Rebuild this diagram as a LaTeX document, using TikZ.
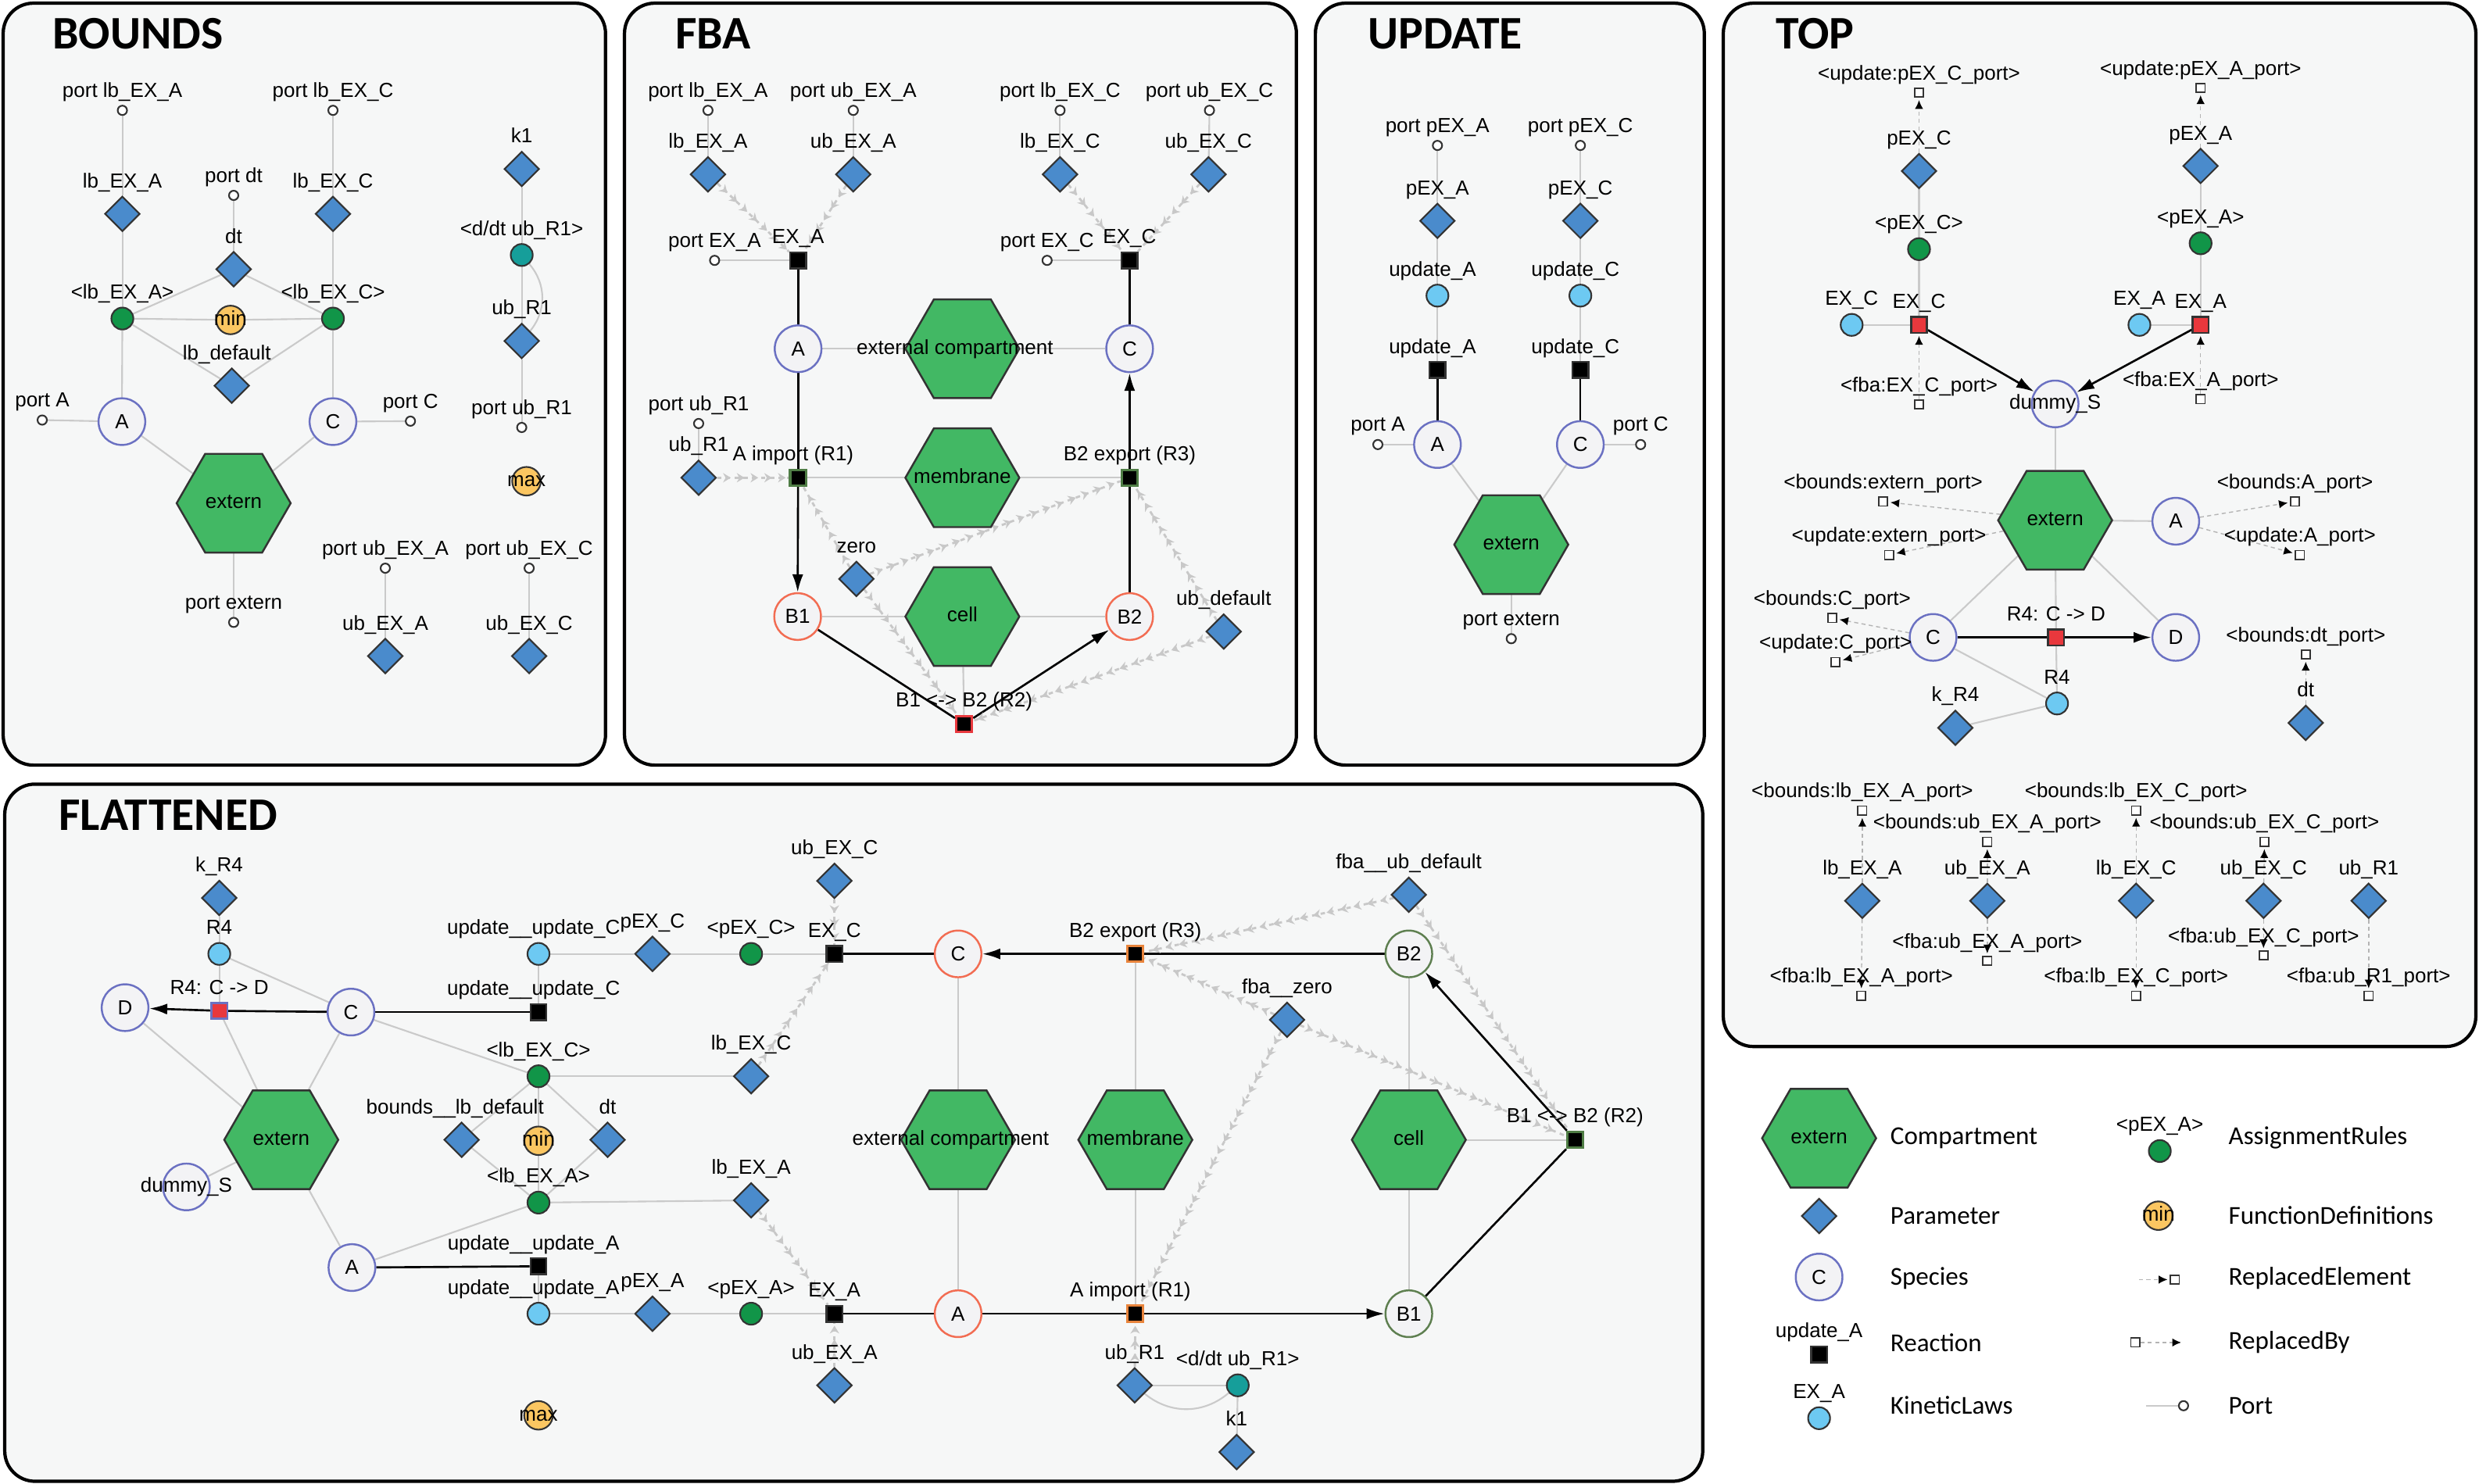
\documentclass[tikz,border=0pt]{standalone}
\usepackage{fontspec}
\setmainfont{Liberation Sans}
\newfontfamily\legfam{Carlito}
\usetikzlibrary{shapes.geometric,arrows.meta,decorations.markings}
\definecolor{panelbg}{HTML}{F6F7F7}
\definecolor{compgreen}{HTML}{42B864}
\definecolor{parblue}{HTML}{4A8BCC}
\definecolor{specfill}{HTML}{F3F3F5}
\definecolor{specblue}{HTML}{6B71C2}
\definecolor{specred}{HTML}{F26C52}
\definecolor{specgrn}{HTML}{5E7F50}
\definecolor{asgngreen}{HTML}{119548}
\definecolor{rateteal}{HTML}{169E9A}
\definecolor{kinblue}{HTML}{6DC9F2}
\definecolor{funcyel}{HTML}{FBC661}
\definecolor{rxnred}{HTML}{E8383D}
\definecolor{rxnorange}{HTML}{E8843C}
\definecolor{rxngreen}{HTML}{4F7D45}
\definecolor{darkline}{HTML}{333333}
\definecolor{linegray}{HTML}{CACACA}
\definecolor{chevgray}{HTML}{C8C8C8}
\definecolor{replgray}{HTML}{B4B4B4}
\newcommand{\lblf}{\fontsize{7.4pt}{8pt}\selectfont}
\newcommand{\legf}{\legfam\fontsize{9.4pt}{11pt}\selectfont}
\newcommand{\titf}{\legfam\bfseries\fontsize{17pt}{20pt}\selectfont}
\pgfdeclarelayer{back}
\pgfsetlayers{back,main}
\tikzset{
  lbl/.style={font=\lblf,inner sep=0pt,text height=5.5pt,text depth=1.6pt},
  lab/.style={label={[lbl]above:#1}},
  labl/.style={label={[lbl,xshift=-1.8pt]above:#1}},
  mid/.style={label={[lbl]center:#1}},
  midl/.style={label={[lbl,xshift=-2.7pt]center:#1}},
  comp/.style={regular polygon,regular polygon sides=6,minimum size=41.5pt,inner sep=0pt,draw=darkline,line width=0.7pt,fill=compgreen},
  param/.style={diamond,minimum width=12.8pt,minimum height=12.8pt,inner sep=0pt,draw=darkline,line width=0.6pt,fill=parblue},
  spec/.style={circle,minimum size=17pt,inner sep=0pt,draw=specblue,line width=0.7pt,fill=specfill,font=\lblf},
  specr/.style={spec,draw=specred},
  specg/.style={spec,draw=specgrn},
  asgn/.style={circle,minimum size=8pt,inner sep=0pt,draw=darkline,line width=0.6pt,fill=asgngreen},
  rate/.style={asgn,fill=rateteal},
  kin/.style={asgn,fill=kinblue},
  func/.style={asgn,minimum size=10.4pt,fill=funcyel},
  rxn/.style={rectangle,minimum size=5.8pt,inner sep=0pt,draw=darkline,line width=0.7pt,fill=black},
  rxnr/.style={rxn,fill=rxnred},
  rxno/.style={rxn,draw=rxnorange,line width=0.9pt},
  rxng/.style={rxn,draw=rxngreen,line width=0.9pt},
  rxnrb/.style={rxn,draw=rxnred,line width=0.9pt},
  port/.style={circle,minimum size=3.4pt,inner sep=0pt,draw=darkline,line width=0.6pt,fill=white},
  rport/.style={rectangle,minimum size=3.2pt,inner sep=0pt,draw=darkline,line width=0.5pt,fill=white},
  gline/.style={draw=linegray,line width=0.6pt},
  rline/.style={draw=black,line width=0.75pt},
  rarr/.style={rline,-{Latex[length=6.5pt,width=4pt]}},
  bnd/.style={color=chevgray,line width=0.8pt,dash pattern=on 1.6pt off 1.6pt,postaction={decorate},
    decoration={markings,mark=between positions 0 and 1 step 5pt with {\arrow{Stealth[length=2.8pt,width=3.4pt]}}}},
  repl/.style={draw=replgray,line width=0.4pt,dash pattern=on 1.5pt off 1.2pt,shorten >=0.8pt,-{Latex[length=3.2pt,width=3pt,color=black]}},
  title/.style={font=\titf,anchor=base west,inner sep=0pt},
  legtxt/.style={font=\legf,anchor=west,inner sep=0pt},
  panel/.style={draw=black,line width=1.2pt,fill=panelbg,rounded corners=11pt}
}
\begin{document}
\begin{tikzpicture}[x=0.2023mm,y=-0.2023mm,label distance=1pt]
\useasboundingbox (0,0) rectangle (1568,938.7);
\begin{pgfonlayer}{back}
\draw[panel] (2,2) rectangle (383,484);
\draw[panel] (395,2) rectangle (820,484);
\draw[panel] (832,2) rectangle (1078,484);
\draw[panel] (1090,2) rectangle (1566,662);
\draw[panel] (3,496) rectangle (1077,937);
\end{pgfonlayer}
\node[title] at (33,31) {BOUNDS};
\node[title] at (427,31) {FBA};
\node[title] at (865,31) {UPDATE};
\node[title] at (1123,31) {TOP};
\node[title] at (37,525) {FLATTENED};

\node[port,lab={port lb\_EX\_A}] (b_plbA) at (77.4,69.8) {};
\node[port,lab={port lb\_EX\_C}] (b_plbC) at (210.6,69.8) {};
\node[param,lab={lb\_EX\_A}] (b_lbA) at (77.4,135.3) {};
\node[param,lab={lb\_EX\_C}] (b_lbC) at (210.6,135.3) {};
\node[port,lab={port dt}] (b_pdt) at (147.8,123.6) {};
\node[param,lab=dt] (b_dt) at (147.8,170.3) {};
\node[asgn,lab={<lb\_EX\_A>}] (b_alA) at (77.4,201.5) {};
\node[asgn,lab={<lb\_EX\_C>}] (b_alC) at (210.6,201.5) {};
\node[func,mid=min] (b_min) at (145.8,202.4) {};
\node[param,labl={lb\_default}] (b_lbd) at (146.6,244) {};
\node[spec] (b_A) at (77.1,266.7) {A};
\node[spec] (b_C) at (210.6,266.7) {C};
\node[port,lab={port A}] (b_pA) at (26.7,265.7) {};
\node[port,lab={port C}] (b_pC) at (259.6,266.4) {};
\node[comp,mid=extern] (b_ext) at (147.8,318.3) {};
\node[port,lab={port extern}] (b_pext) at (147.8,393.7) {};
\node[param,lab=k1] (b_k1) at (330,106.9) {};
\node[rate,lab={<d/dt ub\_R1>}] (b_rr) at (330,161.3) {};
\node[param,lab={ub\_R1}] (b_ubR1) at (330,215.7) {};
\node[port,lab={port ub\_R1}] (b_pubR1) at (330,270.4) {};
\node[func,mid=max] (b_max) at (333,304.4) {};
\node[port,lab={port ub\_EX\_A}] (b_pubA) at (243.7,359.4) {};
\node[port,lab={port ub\_EX\_C}] (b_pubC) at (334.7,359.4) {};
\node[param,lab={ub\_EX\_A}] (b_ubA) at (243.7,415) {};
\node[param,lab={ub\_EX\_C}] (b_ubC) at (334.7,415) {};

\node[port,lab={port lb\_EX\_A}] (f_plbA) at (447.8,69.8) {};
\node[port,lab={port ub\_EX\_A}] (f_pubA) at (539.7,69.8) {};
\node[port,lab={port lb\_EX\_C}] (f_plbC) at (670.5,69.8) {};
\node[port,lab={port ub\_EX\_C}] (f_pubC) at (765,69.8) {};
\node[param,lab={lb\_EX\_A}] (f_lbA) at (447.8,110.3) {};
\node[param,lab={ub\_EX\_A}] (f_ubA) at (539.7,110.3) {};
\node[param,lab={lb\_EX\_C}] (f_lbC) at (670.5,110.3) {};
\node[param,lab={ub\_EX\_C}] (f_ubC) at (764.4,110.3) {};
\node[port,lab={port EX\_A}] (f_pexA) at (452,164.7) {};
\node[rxn,lab={EX\_A}] (f_exA) at (504.8,164.7) {};
\node[port,lab={port EX\_C}] (f_pexC) at (662.3,164.7) {};
\node[rxn,lab={EX\_C}] (f_exC) at (714.5,164.7) {};
\node[spec] (f_A) at (504.8,220.6) {A};
\node[spec] (f_C) at (714.5,220.6) {C};
\node[comp,midl={external compartment}] (f_extc) at (608.7,220.6) {};
\node[port,lab={port ub\_R1}] (f_pubR1) at (441.9,267.9) {};
\node[param,lab={ub\_R1}] (f_ubR1) at (441.9,302.2) {};
\node[rxng,labl={A import (R1)}] (f_r1) at (504.8,302.2) {};
\node[comp,mid=membrane] (f_mem) at (608.7,302.2) {};
\node[rxng,lab={B2 export (R3)}] (f_r3) at (714.5,302.2) {};
\node[param,lab=zero] (f_zero) at (541.7,366.2) {};
\node[specr] (f_B1) at (504.5,390) {B1};
\node[comp,mid=cell] (f_cell) at (608.7,390) {};
\node[specr] (f_B2) at (714.5,390) {B2};
\node[param,lab={ub\_default}] (f_ubd) at (774,399.5) {};
\node[rxnrb,lab={B1 <-> B2 (R2)}] (f_r2) at (609.8,458) {};

\node[port,lab={port pEX\_A}] (u_ppA) at (909.2,92) {};
\node[port,lab={port pEX\_C}] (u_ppC) at (999.6,92) {};
\node[param,lab={pEX\_A}] (u_pA) at (909.2,139.7) {};
\node[param,lab={pEX\_C}] (u_pC) at (999.6,139.7) {};
\node[kin,labl={update\_A}] (u_klA) at (909.2,187) {};
\node[kin,labl={update\_C}] (u_klC) at (999.6,187) {};
\node[rxn,labl={update\_A}] (u_rA) at (909.2,234) {};
\node[rxn,labl={update\_C}] (u_rC) at (999.6,234) {};
\node[spec] (u_A) at (909.2,281.2) {A};
\node[spec] (u_C) at (999.6,281.2) {C};
\node[port,lab={port A}] (u_portA) at (871.5,281.2) {};
\node[port,lab={port C}] (u_portC) at (1037.7,281.2) {};
\node[comp,mid=extern] (u_ext) at (955.9,344.5) {};
\node[port,lab={port extern}] (u_pext) at (955.9,404) {};

\node[rport,lab={<update:pEX\_C\_port>}] (t_upC) at (1213.8,58.7) {};
\node[param,lab={pEX\_C}] (t_pC) at (1213.8,108.2) {};
\node[asgn,lab={<pEX\_C>}] (t_apC) at (1213.8,157.6) {};
\node[rxnr,lab={EX\_C}] (t_exC) at (1213.8,205.5) {};
\node[kin,lab={EX\_C}] (t_klC) at (1171.2,205.5) {};
\node[rport,lab={<fba:EX\_C\_port>}] (t_fC) at (1213.8,255.9) {};
\node[rport,lab={<update:pEX\_A\_port>}] (t_upA) at (1391.9,55.6) {};
\node[param,lab={pEX\_A}] (t_pA) at (1391.9,105) {};
\node[asgn,lab={<pEX\_A>}] (t_apA) at (1391.9,153.9) {};
\node[rxnr,lab={EX\_A}] (t_exA) at (1391.9,205.5) {};
\node[kin,lab={EX\_A}] (t_klA) at (1353.2,205.5) {};
\node[rport,lab={<fba:EX\_A\_port>}] (t_fA) at (1391.9,252.5) {};
\node[spec,mid={dummy\_S}] (t_dS) at (1299.9,255.5) {};
\node[comp,mid=extern] (t_ext) at (1299.9,329.1) {};
\node[spec] (t_A) at (1376.2,329.7) {A};
\node[rport,lab={<bounds:extern\_port>}] (t_bext) at (1191.1,317.3) {};
\node[rport,lab={<update:extern\_port>}] (t_uext) at (1194.8,351) {};
\node[rport,lab={<bounds:A\_port>}] (t_bA) at (1451.6,317.3) {};
\node[rport,lab={<update:A\_port>}] (t_uA) at (1454.7,351) {};
\node[spec] (t_C) at (1222.7,403.2) {C};
\node[spec] (t_D) at (1376.2,403.2) {D};
\node[rxnr,lab={R4: C -> D}] (t_r4) at (1300.5,403.2) {};
\node[kin,lab=R4] (t_klR4) at (1301.1,445) {};
\node[param,lab={k\_R4}] (t_kR4) at (1236.8,460.4) {};
\node[rport,lab={<bounds:C\_port>}] (t_bC) at (1158.9,391) {};
\node[rport,lab={<update:C\_port>}] (t_uC) at (1161,418.7) {};
\node[rport,lab={<bounds:dt\_port>}] (t_bdt) at (1458.4,414) {};
\node[param,lab=dt] (t_dt) at (1458.4,457.3) {};
\node[rport,lab={<bounds:lb\_EX\_A\_port>}] (t_blbA) at (1177.9,512.7) {};
\node[rport,lab={<bounds:ub\_EX\_A\_port>}] (t_bubA) at (1257,532.5) {};
\node[rport,lab={<bounds:lb\_EX\_C\_port>}] (t_blbC) at (1351.1,512.7) {};
\node[rport,lab={<bounds:ub\_EX\_C\_port>}] (t_bubC) at (1432.3,532.5) {};
\node[param,lab={lb\_EX\_A}] (t_lbA) at (1177.9,569.8) {};
\node[param,lab={ub\_EX\_A}] (t_ubA) at (1257,569.8) {};
\node[param,lab={lb\_EX\_C}] (t_lbC) at (1351.1,569.8) {};
\node[param,lab={ub\_EX\_C}] (t_ubC) at (1431.7,569.8) {};
\node[param,lab={ub\_R1}] (t_ubR1) at (1498.2,569.8) {};
\node[rport,lab={<fba:ub\_EX\_A\_port>}] (t_fubA) at (1257,607.7) {};
\node[rport,lab={<fba:ub\_EX\_C\_port>}] (t_fubC) at (1431.7,604.4) {};
\node[rport,lab={<fba:lb\_EX\_A\_port>}] (t_flbA) at (1177.3,629.8) {};
\node[rport,lab={<fba:lb\_EX\_C\_port>}] (t_flbC) at (1351.1,629.8) {};
\node[rport,lab={<fba:ub\_R1\_port>}] (t_fubR1) at (1498.2,629.8) {};

\node[param,lab={k\_R4}] (x_kR4) at (138.7,568) {};
\node[kin,lab=R4] (x_klR4) at (138.7,603.4) {};
\node[spec] (x_D) at (79.1,637.4) {D};
\node[rxnr,draw=specblue,lab={R4: C -> D}] (x_r4) at (138.7,639.4) {};
\node[spec] (x_C) at (222,640.2) {C};
\node[comp,mid=extern] (x_ext) at (177.9,721) {};
\node[spec,mid={dummy\_S}] (x_dS) at (117.9,750.8) {};
\node[spec] (x_A) at (222.6,801.8) {A};
\node[kin,labl={update\_\_update\_C}] (x_kluC) at (340.6,603.4) {};
\node[param,lab={pEX\_C}] (x_pC) at (412.7,603.4) {};
\node[asgn,lab={<pEX\_C>}] (x_apC) at (475.1,603.4) {};
\node[rxn,lab={EX\_C}] (x_exC) at (527.8,603.4) {};
\node[param,lab={ub\_EX\_C}] (x_ubC) at (527.8,557.2) {};
\node[rxn,labl={update\_\_update\_C}] (x_ruC) at (340.6,640.2) {};
\node[asgn,lab={<lb\_EX\_C>}] (x_alC) at (340.6,680.8) {};
\node[param,lab={lb\_EX\_C}] (x_lbC) at (475.1,680.8) {};
\node[param,label={[lbl,xshift=-2.4pt]above:bounds\_\_lb\_default}] (x_lbd) at (292,721) {};
\node[func,mid=min] (x_min) at (340.6,721.6) {};
\node[param,lab=dt] (x_dt) at (384.3,721) {};
\node[asgn,lab={<lb\_EX\_A>}] (x_alA) at (340.6,760.7) {};
\node[param,lab={lb\_EX\_A}] (x_lbA) at (475.1,759.3) {};
\node[rxn,labl={update\_\_update\_A}] (x_ruA) at (340.6,801) {};
\node[kin,labl={update\_\_update\_A}] (x_kluA) at (340.6,831) {};
\node[param,lab={pEX\_A}] (x_pA) at (412.7,831) {};
\node[asgn,lab={<pEX\_A>}] (x_apA) at (475.1,831) {};
\node[rxn,lab={EX\_A}] (x_exA) at (527.8,831) {};
\node[param,lab={ub\_EX\_A}] (x_ubA) at (527.8,876.3) {};
\node[func,mid=max] (x_max) at (340.6,895.3) {};
\node[param,lab={fba\_\_ub\_default}] (x_ubd) at (891.1,566) {};
\node[rxno,lab={B2 export (R3)}] (x_r3) at (718.1,603.4) {};
\node[specr] (x_C2) at (606,603.4) {C};
\node[specg] (x_B2) at (891.1,603.4) {B2};
\node[param,lab={fba\_\_zero}] (x_zero) at (814.1,645.1) {};
\node[comp,midl={external compartment}] (x_extc) at (606,721) {};
\node[comp,mid=membrane] (x_mem) at (718.1,721) {};
\node[comp,mid=cell] (x_cell) at (891.1,721) {};
\node[rxng,lab={B1 <-> B2 (R2)}] (x_r2) at (996.2,721) {};
\node[specr] (x_A2) at (606,831) {A};
\node[rxno,labl={A import (R1)}] (x_r1) at (718.1,831) {};
\node[specg] (x_B1) at (891.1,831) {B1};
\node[param,lab={ub\_R1}] (x_ubR1) at (717.7,876.3) {};
\node[rate,lab={<d/dt ub\_R1>}] (x_rr) at (782.9,876.3) {};
\node[param,lab=k1] (x_k1) at (782.2,918.5) {};

\node[comp,mid=extern] (lg_comp) at (1150.6,720) {};
\node[legtxt] at (1195.4,720) {Compartment};
\node[param] (lg_par) at (1150.6,769.2) {};
\node[legtxt] at (1195.4,769.2) {Parameter};
\node[spec] (lg_spec) at (1150.6,807.8) {C};
\node[legtxt] at (1195.4,808.6) {Species};
\node[rxn,lab={update\_A}] (lg_rxn) at (1150.6,856.7) {};
\node[legtxt] at (1195.4,849.2) {Reaction};
\node[kin,lab={EX\_A}] (lg_kin) at (1150.6,897.1) {};
\node[legtxt] at (1195.4,888.8) {KineticLaws};
\node[asgn,lab={<pEX\_A>}] (lg_asg) at (1366.1,728.1) {};
\node[legtxt] at (1409.3,719.7) {AssignmentRules};
\node[func,mid=min] (lg_fun) at (1365.2,769) {};
\node[legtxt] at (1409.3,769) {FunctionDefinitions};
\coordinate (lg_re0) at (1352.9,809.4);
\node[rport] (lg_re) at (1375.6,809.4) {};
\node[legtxt] at (1409.3,808.7) {ReplacedElement};
\node[rport] (lg_rb) at (1350.5,849.2) {};
\coordinate (lg_rb1) at (1381,849.2);
\node[legtxt] at (1409.3,849.2) {ReplacedBy};
\coordinate (lg_pt0) at (1357.2,889.2);
\node[port] (lg_pt) at (1381.1,889.2) {};
\node[legtxt] at (1409.3,889.2) {Port};

\begin{pgfonlayer}{back}
\foreach \a/\b in {b_plbA/b_lbA,b_lbA/b_alA,b_alA/b_A,b_plbC/b_lbC,b_lbC/b_alC,b_alC/b_C,b_pdt/b_dt,b_dt/b_alA,b_dt/b_alC,
  b_alA/b_min,b_min/b_alC,b_alA/b_lbd,b_lbd/b_alC,b_pA/b_A,b_C/b_pC,b_A/b_ext,b_ext/b_C,b_ext/b_pext,
  b_k1/b_rr,b_rr/b_ubR1,b_ubR1/b_pubR1,b_pubA/b_ubA,b_pubC/b_ubC,
  f_plbA/f_lbA,f_pubA/f_ubA,f_plbC/f_lbC,f_pubC/f_ubC,f_pexA/f_exA,f_pexC/f_exC,f_pubR1/f_ubR1,
  f_A/f_extc,f_extc/f_C,f_r1/f_mem,f_mem/f_r3,f_B1/f_cell,f_cell/f_B2,f_cell/f_r2,
  u_ppA/u_pA,u_pA/u_klA,u_klA/u_rA,u_ppC/u_pC,u_pC/u_klC,u_klC/u_rC,u_portA/u_A,u_C/u_portC,u_A/u_ext,u_ext/u_C,u_ext/u_pext,
  t_pC/t_apC,t_apC/t_exC,t_klC/t_exC,t_pA/t_apA,t_apA/t_exA,t_klA/t_exA,t_dS/t_ext,t_ext/t_A,t_ext/t_C,t_ext/t_D,
  t_ext/t_r4,t_r4/t_klR4,t_C/t_klR4,t_klR4/t_kR4,
  x_kR4/x_klR4,x_klR4/x_C,x_klR4/x_r4,x_r4/x_ext,x_D/x_ext,x_C/x_ext,x_ext/x_dS,x_ext/x_A,x_C/x_alC,x_A/x_alA,
  x_kluC/x_pC,x_pC/x_apC,x_apC/x_exC,x_kluC/x_ruC,x_alC/x_lbC,x_alC/x_lbd,x_alC/x_min,x_alC/x_dt,
  x_lbd/x_alA,x_min/x_alA,x_dt/x_alA,x_alA/x_lbA,x_ruA/x_kluA,x_kluA/x_pA,x_pA/x_apA,x_apA/x_exA,
  x_C2/x_extc,x_extc/x_A2,x_r3/x_mem,x_mem/x_r1,x_B2/x_cell,x_cell/x_B1,x_cell/x_r2,x_ubR1/x_rr,x_rr/x_k1,lg_pt0/lg_pt}
  \draw[gline] (\a)--(\b);
\draw[gline] (b_rr) to[bend left=40] (b_ubR1);
\draw[gline] (x_ubR1) to[bend right=40] (x_rr);
\foreach \a/\b in {f_exA/f_A,f_exC/f_C,f_A/f_r1,f_B2/f_r3,f_B1/f_r2,u_rA/u_A,u_rC/u_C,t_C/t_r4,
  x_C/x_r4,x_C/x_ruC,x_A/x_ruA,x_exC/x_C2,x_B2/x_r3,x_exA/x_A2,x_A2/x_r1,x_B1/x_r2}
  \draw[rline] (\a)--(\b);
\foreach \a/\b in {f_r1/f_B1,f_r3/f_C,f_r2/f_B2,t_exC/t_dS,t_exA/t_dS,t_r4/t_D,x_r4/x_D,x_r3/x_C2,x_r1/x_B1,x_r2/x_B2}
  \draw[rarr] (\a)--(\b);
\foreach \a/\b in {f_lbA/f_exA,f_ubA/f_exA,f_lbC/f_exC,f_ubC/f_exC,f_ubR1/f_r1,f_zero/f_r1,f_zero/f_r2,f_zero/f_r3,f_ubd/f_r3,f_ubd/f_r2,
  x_ubC/x_exC,x_lbC/x_exC,x_lbA/x_exA,x_ubA/x_exA,x_ubd/x_r3,x_ubd/x_r2,x_zero/x_r3,x_zero/x_r2,x_zero/x_r1,x_ubR1/x_r1}
  \draw[bnd] (\a)--(\b);
\foreach \a/\b in {t_pC/t_upC,t_fC/t_exC,t_pA/t_upA,t_fA/t_exA,t_ext/t_bext,t_ext/t_uext,t_A/t_bA,t_A/t_uA,t_C/t_bC,t_C/t_uC,t_dt/t_bdt,
  t_lbA/t_blbA,t_lbA/t_flbA,t_ubA/t_bubA,t_ubA/t_fubA,t_lbC/t_blbC,t_lbC/t_flbC,t_ubC/t_bubC,t_ubC/t_fubC,t_ubR1/t_fubR1,
  lg_re0/lg_re,lg_rb/lg_rb1}
  \draw[repl] (\a)--(\b);
\end{pgfonlayer}
\end{tikzpicture}
\end{document}
